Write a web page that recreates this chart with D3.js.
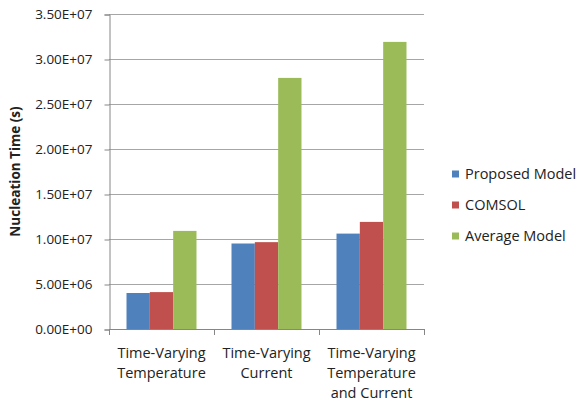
<!DOCTYPE html>
<html><head><meta charset="utf-8">
<script src="https://cdn.jsdelivr.net/npm/d3@7"></script>
<style>body{margin:0;background:#fff}svg{display:block}text{font-family:"Open Sans","Noto Sans",sans-serif;fill:#222}</style>
</head><body><svg id="c" width="580" height="402"></svg>
<script>
const categories = [["Time-Varying","Temperature"],["Time-Varying","Current"],["Time-Varying","Temperature","and Current"]];
const seriesNames = ["Proposed Model","COMSOL","Average Model"];
const proposed = [4.0e6, 9.5e6, 1.06e7];
const comsol = [4.1e6, 9.65e6, 1.19e7];
const average = [1.09e7, 2.79e7, 3.19e7];
const yTicks = [0,5e6,1e7,1.5e7,2e7,2.5e7,3e7,3.5e7];
const colors = ["#4f81bd","#c0504d","#9bbb59"];
const series = [proposed, comsol, average];

const svg = d3.select("#c");
const L=109, R=424, T=14, B=329;
const x = d3.scaleBand().domain(d3.range(categories.length)).range([L,R]).paddingInner(0).paddingOuter(0);
const y = d3.scaleLinear().domain([0,3.5e7]).range([B,T]);
const fmt = v => { const e = v===0?0:Math.floor(Math.log10(v)); const m=v/Math.pow(10,e); return m.toFixed(2)+"E+"+String(e).padStart(2,"0"); };

// gridlines
svg.append("g").selectAll("line").data(yTicks.slice(1)).join("line")
  .attr("x1",L).attr("x2",R).attr("y1",d=>y(d)+0.5).attr("y2",d=>y(d)+0.5)
  .attr("stroke","#a6a6a6").attr("stroke-width",1);

// bars
const gw = x.bandwidth(), bw = gw/(3+1.5), off = (gw-3*bw)/2;
series.forEach((s,si)=>{
  svg.append("g").selectAll("rect").data(s).join("rect")
    .attr("x",(d,i)=>x(i)+off+si*bw).attr("width",bw)
    .attr("y",d=>y(d)).attr("height",d=>B-y(d)).attr("fill",colors[si]);
});

// y axis
const ya = svg.append("g").attr("transform",`translate(${L+0.5},0.5)`)
  .call(d3.axisLeft(y).tickValues(yTicks).tickFormat(fmt).tickSize(5).tickPadding(12));
ya.select(".domain").attr("stroke","#868686");
ya.selectAll(".tick line").attr("stroke","#868686");
ya.selectAll("text").attr("font-size",13.5).attr("fill","#222").attr("font-family","Open Sans, Noto Sans, sans-serif");

// x axis
svg.append("line").attr("x1",L).attr("x2",R).attr("y1",B+0.5).attr("y2",B+0.5).attr("stroke","#868686");
svg.append("g").selectAll("line").data(d3.range(categories.length+1)).join("line")
  .attr("x1",i=>Math.round(L+i*gw)+0.5).attr("x2",i=>Math.round(L+i*gw)+0.5)
  .attr("y1",B).attr("y2",B+6).attr("stroke","#868686");
const cl = svg.append("g").selectAll("text").data(categories).join("text")
  .attr("text-anchor","middle").attr("font-size",14.5)
  .attr("transform",(d,i)=>`translate(${x(i)+gw/2},${B+29})`);
cl.selectAll("tspan").data(d=>d).join("tspan").attr("x",0).attr("dy",(d,j)=>j===0?0:20).text(d=>d);

// y title
svg.append("text").attr("transform",`translate(20,${(T+B)/2}) rotate(-90)`)
  .attr("text-anchor","middle").attr("font-size",13.5).attr("font-weight","bold").text("Nucleation Time (s)");

// legend
const lg = svg.append("g").selectAll("g").data(seriesNames).join("g")
  .attr("transform",(d,i)=>`translate(452,${174+i*31})`);
lg.append("rect").attr("x",0).attr("y",-3.5).attr("width",7).attr("height",7).attr("fill",(d,i)=>colors[i]);
lg.append("text").attr("x",13).attr("dy","0.35em").attr("font-size",14.5).text(d=>d);
</script></body></html>
